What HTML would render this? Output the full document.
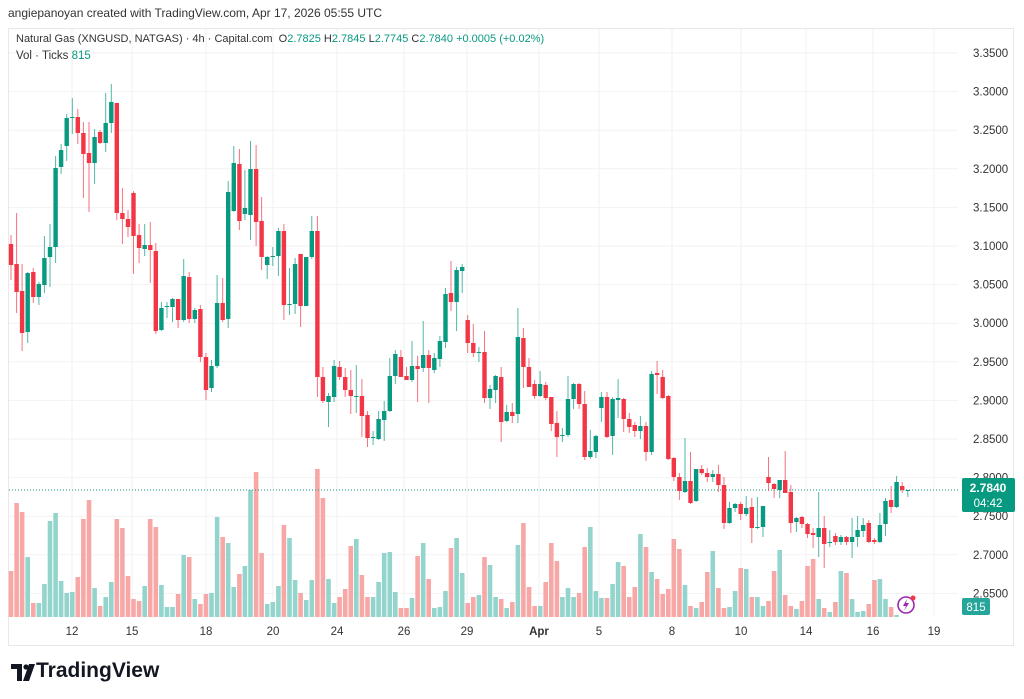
<!DOCTYPE html>
<html><head><meta charset="utf-8"><style>
html,body{margin:0;padding:0;background:#fff;}
body{width:1024px;height:699px;overflow:hidden;position:relative;font-family:"Liberation Sans","DejaVu Sans",sans-serif;}
.t{position:absolute;white-space:nowrap;}
</style></head><body>
<svg id="s" width="1024" height="699" style="position:absolute;left:0;top:0" xmlns="http://www.w3.org/2000/svg"></svg>
<div class="t" style="left:8px;top:6px;font-size:12px;color:#333;">angiepanoyan created with TradingView.com, Apr 17, 2026 05:55 UTC</div>
<div class="t" style="left:16px;top:33px;font-size:11px;color:#333;">Natural Gas (XNGUSD, NATGAS) · 4h · Capital.com &nbsp;O<span style="color:#089981">2.7825</span> H<span style="color:#089981">2.7845</span> L<span style="color:#089981">2.7745</span> C<span style="color:#089981">2.7840</span> <span style="color:#089981">+0.0005 (+0.02%)</span></div>
<div class="t" style="left:16px;top:50px;font-size:11.5px;color:#333;">Vol · Ticks <span style="color:#089981">815</span></div>
<div class="t" style="left:10px;top:659px;font-size:21px;font-weight:bold;color:#131722;"><span style="display:inline-block;width:26px"></span>TradingView</div>
<script>
var s=document.getElementById('s');var h='';
function R(x,y,w,hh,f){h+='<rect x="'+x+'" y="'+y+'" width="'+w+'" height="'+hh+'" fill="'+f+'"/>';}
h+='<rect x="8.5" y="28.5" width="1005" height="617" fill="none" stroke="#e8e8e8"/>';
var pl=['3.3500','3.3000','3.2500','3.2000','3.1500','3.1000','3.0500','3.0000','2.9500','2.9000','2.8500','2.8000','2.7500','2.7000','2.6500'];
for(var i=0;i<pl.length;i++){var y=53+i*38.6;h+='<line x1="9" x2="958" y1="'+y+'" y2="'+y+'" stroke="#f2f2f2"/>';
h+='<text x="973" y="'+(y+4)+'" font-size="11.5" fill="#333" font-family="Liberation Sans,sans-serif">'+pl[i]+'</text>';}
var dl=[[72,'12'],[132,'15'],[206,'18'],[273,'20'],[337,'24'],[404,'26'],[467,'29'],[539,'Apr'],[599,'5'],[672,'8'],[741,'10'],[806,'14'],[873,'16'],[934,'19']];
for(var i=0;i<dl.length;i++){h+='<line x1="'+dl[i][0]+'" x2="'+dl[i][0]+'" y1="29" y2="617" stroke="#f2f2f2"/>';
h+='<text x="'+dl[i][0]+'" y="635" text-anchor="middle" font-size="11.5" fill="#333" '+(dl[i][1]=='Apr'?'font-weight="bold" ':'')+'font-family="Liberation Sans,sans-serif">'+dl[i][1]+'</text>';}
var C=[[244,265,235,280],[264,292,213,313],[291,333,264,351],[332,273,272,343],[272,297,268,303],[297,284,282,305],[285,258,236,293],[257,247,224,287],[247,168,156,263],[167,150,144,174],
[146,118,114,161],[118,117,98,134],[117,133,109,144],[133,154,122,198],[153,163,122,212],[163,137,129,184],[132,143,130,144],[143,123,93,152],[123,102,84,133],[103,213,103,220],
[213,219,188,244],[219,227,210,237],[193,236,191,274],[235,248,224,263],[249,245,224,256],[245,250,222,283],[251,331,243,334],[330,308,302,331],[307,306,302,318],[307,299,298,322],
[299,320,299,328],[320,276,259,322],[277,319,272,323],[319,310,308,323],[309,357,305,362],[357,390,353,400],[388,366,360,392],[366,303,275,368],[303,320,278,322],[319,192,181,328],
[211,163,146,212],[164,221,149,230],[214,208,170,220],[215,169,141,240],[169,222,145,246],[221,257,197,270],[265,257,256,279],[257,256,247,266],[256,231,228,276],[231,305,224,320],
[305,304,268,315],[304,264,258,314],[254,306,254,327],[306,257,257,306],[257,231,216,259],[231,377,216,397],[377,401,367,403],[402,396,393,427],[397,366,360,402],[367,377,361,380],
[377,390,368,397],[390,396,370,414],[397,396,365,413],[396,416,379,437],[415,438,411,447],[438,437,431,445],[439,419,411,440],[420,411,401,441],[411,376,358,412],[376,354,350,384],
[357,377,350,377],[376,380,367,380],[380,366,341,382],[366,369,356,402],[368,355,321,372],[355,368,350,403],[370,358,353,373],[359,341,336,367],[342,294,288,348],[293,302,261,311],
[302,270,267,331],[271,267,264,293],[320,343,315,353],[343,353,324,357],[353,352,347,362],[352,398,331,403],[398,389,385,409],[390,376,375,403],[377,422,367,442],[421,412,405,422],
[412,416,403,423],[414,337,308,423],[338,367,328,388],[367,387,358,387],[384,396,380,399],[396,384,371,397],[385,398,382,400],[397,424,397,431],[423,437,411,457],[436,435,428,442],
[435,399,376,437],[399,384,383,409],[384,404,383,409],[404,457,391,460],[457,451,430,459],[452,436,435,458],[408,397,392,422],[397,437,392,438],[436,399,397,455],[400,398,379,418],
[399,419,398,432],[419,427,413,433],[425,431,422,437],[431,426,416,439],[426,452,422,461],[452,374,371,455],[373,375,361,394],[377,398,370,399],[396,459,395,460],[458,477,457,481],
[477,491,473,500],[492,481,438,493],[481,503,452,504],[501,469,469,502],[469,473,465,475],[473,477,468,482],[477,474,470,482],[474,485,465,492],[485,523,477,529],[523,508,502,524],
[508,504,503,512],[504,514,502,520],[514,508,496,516],[507,528,498,543],[528,527,497,529],[527,506,506,537],[477,483,457,491],[484,489,483,498],[490,480,480,498],[480,493,451,493],
[492,523,485,533],[522,518,517,532],[517,524,516,528],[524,534,523,538],[533,535,528,548],[537,528,492,557],[528,544,516,568],[543,542,530,547],[536,542,533,545],[542,537,535,545],
[537,542,536,545],[542,537,518,558],[537,530,516,547],[531,525,518,537],[523,542,520,543],[540,542,538,544],[542,525,513,543],[524,501,498,536],[500,507,486,513],[507,482,476,508],
[486,490,482,493],[491,490,490,497]];
var V=[571,503,512,557,603,603,584,521,513,581,593,592,577,519,500,588,606,597,582,519,528,576,599,601,586,519,527,585,607,607,594,555,557,599,604,594,593,517,537,543,587,574,566,490,472,553,604,602,586,525,538,580,593,600,580,469,498,579,
603,597,589,546,539,575,597,597,582,553,552,592,608,608,598,556,543,579,608,607,591,548,538,573,603,597,595,557,565,597,599,608,602,545,523,587,606,606,582,543,561,597,588,597,593,547,527,591,598,598,584,562,566,597,
587,534,547,572,579,594,589,539,549,585,606,608,602,572,551,588,608,607,591,568,569,597,597,606,601,571,550,595,606,609,601,566,559,599,608,612,602,571,573,599,612,611,604,580,579,599,607,615];
for(var i=0;i<V.length;i++){var x=11+5.57*i;var c=C[i]||[0,0];var up=c[1]<c[0];
R((x-2.3).toFixed(1),V[i],4.6,617-V[i],up?'#93d4cc':'#f7a8a6');}
h+='<line x1="9" x2="958" y1="490" y2="490" stroke="#089981" stroke-dasharray="1,2" stroke-width="1"/>';
for(var i=0;i<C.length;i++){var x=11+5.57*i;var c=C[i];var up=c[1]<c[0];var col=up?'#089981':'#f23645';
h+='<line x1="'+x.toFixed(1)+'" x2="'+x.toFixed(1)+'" y1="'+c[2]+'" y2="'+c[3]+'" stroke="'+col+'" stroke-opacity="0.7"/>';
var t=Math.min(c[0],c[1]),b=Math.max(c[0],c[1]);R((x-2.2).toFixed(1),t,4.4,Math.max(1,b-t),col);}
h+='<rect x="962" y="478" width="53" height="34" rx="2" fill="#089981"/>';
h+='<text x="988" y="492" text-anchor="middle" font-size="12" font-weight="bold" fill="#fff" font-family="Liberation Sans,sans-serif">2.7840</text>';
h+='<text x="988" y="507" text-anchor="middle" font-size="11.5" fill="#fff" font-family="Liberation Sans,sans-serif">04:42</text>';
h+='<rect x="962" y="598" width="28" height="17" rx="2" fill="#26a69a"/>';
h+='<text x="976" y="611" text-anchor="middle" font-size="11.5" fill="#fff" font-family="Liberation Sans,sans-serif">815</text>';
h+='<circle cx="906" cy="605" r="8" fill="#fff" stroke="#9c27b0" stroke-width="1.6"/><path d="M907 599 L903 606 L906 606 L904 611 L909 603 L906 603 Z" fill="#9c27b0"/><circle cx="913" cy="598" r="2.5" fill="#f23645"/>';
h+='<path d="M11 664 H22 V681 H17 V669 H11 Z" fill="#131722"/><circle cx="26" cy="667" r="2.6" fill="#131722"/><path d="M29 664 H35 L29 681 H23 Z" fill="#131722"/>';
s.innerHTML=h;
</script>
</body></html>
